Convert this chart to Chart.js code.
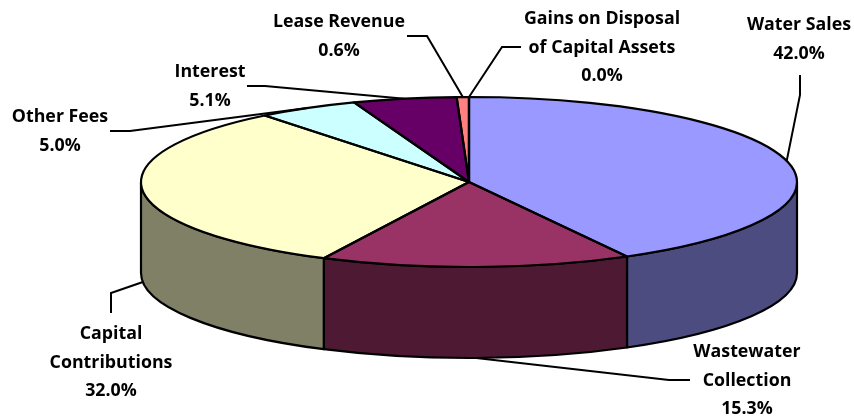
<!DOCTYPE html>
<html>
<head>
<meta charset="utf-8">
<title>Revenue pie</title>
<script src="https://cdn.jsdelivr.net/npm/chart.js@4"></script>
<style>
  html, body { margin: 0; padding: 0; background: #fff; }
  canvas { display: block; }
</style>
</head>
<body>
<canvas id="pie3d" width="854" height="419"></canvas>
<script>
const categories = ['Water Sales', 'Wastewater\nCollection', 'Capital\nContributions', 'Other Fees', 'Interest', 'Lease Revenue', 'Gains on Disposal\nof Capital Assets'];
const shares = [42.0, 15.3, 32.0, 5.0, 5.1, 0.6, 0.0];

const topColors = ['#9999FF', '#993366', '#FFFFCC', '#CCFFFF', '#660066', '#FF8080', '#0066CC'];
const sideColors = ['#4C4C80', '#4D1933', '#808066', '#668080', '#330033', '#804040', '#003366'];

// where each label sits (centre x, y of first line) and the elbow of its leader line
const labelAt = [[799, 25], [747, 352], [111, 334], [60, 117], [210, 72], [339, 22], [602, 19]];
const leaderEnd = [[[800, 75], [800, 95]], [[690, 380], [669, 380]], [[111, 313], [111, 293]], [[110, 131], [130, 131]], [[247, 86], [265, 86]], [[407, 36], [427, 36]], [[521, 47], [502, 47]]];

const DEPTH = 91;
const LINE_H = 28.6;

function squash(ctx, arc, sx, dy) {
    ctx.translate(arc.x, arc.y + dy);
    ctx.scale(sx, 1);
}

const pie3d = {
    id: 'pie3d',
    beforeDatasetsDraw(chart) {
        const ctx = chart.ctx;
        const arcs = chart.getDatasetMeta(0).data;
        const sx = (chart.chartArea.width / 2) / arcs[0].outerRadius;
        chart.$sx = sx;

        // side walls, only the front half of the rim shows
        arcs.forEach(function(arc, i) {
            const a = Math.max(arc.startAngle, 0);
            const b = Math.min(arc.endAngle, Math.PI);
            if (b <= a) return;
            ctx.save();
            ctx.beginPath();
            ctx.save();
            squash(ctx, arc, sx, 0);
            ctx.arc(0, 0, arc.outerRadius, a, b);
            ctx.restore();
            ctx.save();
            squash(ctx, arc, sx, DEPTH);
            ctx.arc(0, 0, arc.outerRadius, b, a, true);
            ctx.restore();
            ctx.closePath();
            ctx.fillStyle = sideColors[i];
            ctx.fill();
            ctx.lineWidth = 2.2;
            ctx.strokeStyle = '#000';
            ctx.lineJoin = 'round';
            ctx.stroke();
            ctx.restore();
        });

        // the library then paints the slices through this squash
        const first = arcs[0];
        ctx.save();
        ctx.translate(first.x, first.y);
        ctx.scale(sx, 1);
        ctx.translate(-first.x, -first.y);
    },
    afterDatasetsDraw(chart) {
        const ctx = chart.ctx;
        ctx.restore();
        const arcs = chart.getDatasetMeta(0).data;
        const sx = chart.$sx;

        // slice outlines, stroked unsquashed so the pen stays even
        arcs.forEach(function(arc) {
            ctx.save();
            ctx.beginPath();
            ctx.save();
            squash(ctx, arc, sx, 0);
            ctx.moveTo(0, 0);
            ctx.arc(0, 0, arc.outerRadius, arc.startAngle, arc.endAngle);
            ctx.closePath();
            ctx.restore();
            ctx.lineWidth = 2.2;
            ctx.strokeStyle = '#000';
            ctx.lineJoin = 'round';
            ctx.stroke();
            ctx.restore();
        });

        // leader lines go from the middle of each slice's rim out to the label
        arcs.forEach(function(arc, i) {
            const mid = (arc.startAngle + arc.endAngle) / 2;
            const sinM = Math.sin(mid);
            let px = arc.x + Math.cos(mid) * arc.outerRadius * sx;
            let py = arc.y + sinM * arc.outerRadius;
            if (sinM > 0) py += DEPTH;
            ctx.save();
            ctx.beginPath();
            ctx.moveTo(leaderEnd[i][0][0], leaderEnd[i][0][1]);
            ctx.lineTo(leaderEnd[i][1][0], leaderEnd[i][1][1]);
            ctx.lineTo(px, py);
            ctx.lineWidth = 2;
            ctx.strokeStyle = '#000';
            ctx.stroke();
            ctx.restore();
        });

        ctx.save();
        ctx.font = 'bold 17.8px "Open Sans"';
        ctx.fillStyle = '#000';
        ctx.textAlign = 'center';
        ctx.textBaseline = 'middle';
        categories.forEach(function(name, i) {
            const lines = name.split('\n').concat(shares[i].toFixed(1) + '%');
            lines.forEach(function(line, n) {
                ctx.fillText(line, labelAt[i][0], labelAt[i][1] + n * LINE_H);
            });
        });
        ctx.restore();
    }
};

new Chart(document.getElementById('pie3d'), {
    type: 'pie',
    data: {
        labels: categories,
        datasets: [{
            data: shares,
            backgroundColor: topColors,
            borderWidth: 0,
            clip: false
        }]
    },
    options: {
        responsive: false,
        animation: false,
        // rim of the top face: x 141..797, y 97..267
        layout: { padding: { left: 141, right: 57, top: 97, bottom: 152 } },
        plugins: {
            legend: { display: false },
            tooltip: { enabled: false }
        }
    },
    plugins: [pie3d]
});
</script>
</body>
</html>
